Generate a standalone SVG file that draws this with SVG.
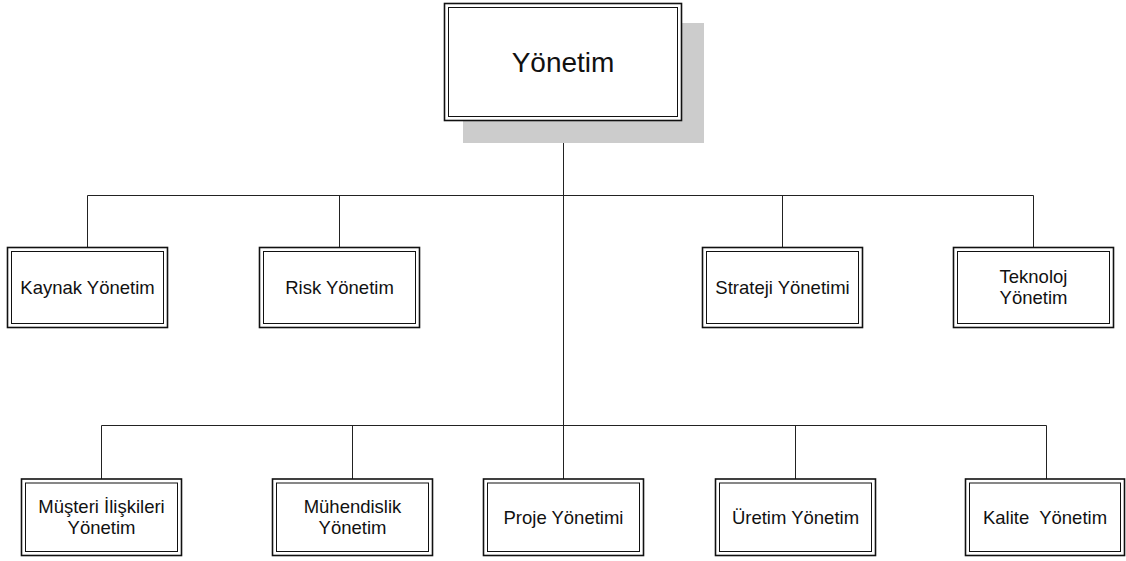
<svg xmlns="http://www.w3.org/2000/svg" width="1126" height="561" viewBox="0 0 1126 561">
  <style>
    .outer { fill: #ffffff; stroke: #111111; stroke-width: 1.6; }
    .inner { fill: none; stroke: #111111; stroke-width: 1; }
    .shadow { fill: #cccccc; stroke: none; }
    .wire { fill: none; stroke: #222222; stroke-width: 1; }
    .lbl { font-family: "Liberation Sans", Arial, sans-serif; font-size: 18.5px; fill: #111111; text-anchor: middle; white-space: pre; }
    .title { font-family: "Liberation Sans", Arial, sans-serif; font-size: 28px; fill: #111111; text-anchor: middle; }
  </style>
  <rect width="1126" height="561" fill="#ffffff"/>

  <!-- connectors -->
  <g id="connectors">
    <path class="wire" d="M563.5 121 V426"/>
    <path class="wire" d="M87.5 247 V195.5 H1033.5 V247"/>
    <path class="wire" d="M339.5 195.5 V247"/>
    <path class="wire" d="M782.5 195.5 V247"/>
    <path class="wire" d="M101.5 479 V425.5 H1046.5 V479"/>
    <path class="wire" d="M352.5 425.5 V479"/>
    <path class="wire" d="M563.5 425.5 V479"/>
    <path class="wire" d="M795.5 425.5 V479"/>
  </g>

  <!-- root -->
  <g id="yonetim">
    <rect class="shadow" x="463" y="23" width="241" height="120"/>
    <rect class="outer" x="444.5" y="3.5" width="237" height="117"/>
    <rect class="inner" x="448.5" y="7.5" width="229" height="109"/>
    <text class="title" x="563" y="72">Yönetim</text>
  </g>

  <!-- first level -->
  <g id="kaynak">
    <rect class="outer" x="7.5" y="247.5" width="160" height="80"/>
    <rect class="inner" x="11.5" y="251.5" width="152" height="72"/>
    <text class="lbl" x="87.5" y="294">Kaynak Yönetim</text>
  </g>
  <g id="risk">
    <rect class="outer" x="259.5" y="247.5" width="160" height="80"/>
    <rect class="inner" x="263.5" y="251.5" width="152" height="72"/>
    <text class="lbl" x="339.5" y="294">Risk Yönetim</text>
  </g>
  <g id="strateji">
    <rect class="outer" x="702.5" y="247.5" width="160" height="80"/>
    <rect class="inner" x="706.5" y="251.5" width="152" height="72"/>
    <text class="lbl" x="782.5" y="294">Strateji Yönetimi</text>
  </g>
  <g id="teknoloj">
    <rect class="outer" x="953.5" y="247.5" width="160" height="80"/>
    <rect class="inner" x="957.5" y="251.5" width="152" height="72"/>
    <text class="lbl" x="1033.5" y="283">Teknoloj</text>
    <text class="lbl" x="1033.5" y="304">Yönetim</text>
  </g>

  <!-- second level -->
  <g id="musteri">
    <rect class="outer" x="21.5" y="479" width="160" height="76.5"/>
    <rect class="inner" x="25.5" y="483" width="152" height="68.5"/>
    <text class="lbl" x="101.5" y="513">Müşteri İlişkileri</text>
    <text class="lbl" x="101.5" y="534">Yönetim</text>
  </g>
  <g id="muhendislik">
    <rect class="outer" x="272.5" y="479" width="160" height="76.5"/>
    <rect class="inner" x="276.5" y="483" width="152" height="68.5"/>
    <text class="lbl" x="352.5" y="513">Mühendislik</text>
    <text class="lbl" x="352.5" y="534">Yönetim</text>
  </g>
  <g id="proje">
    <rect class="outer" x="483.5" y="479" width="160" height="76.5"/>
    <rect class="inner" x="487.5" y="483" width="152" height="68.5"/>
    <text class="lbl" x="563.5" y="524">Proje Yönetimi</text>
  </g>
  <g id="uretim">
    <rect class="outer" x="715.5" y="479" width="160" height="76.5"/>
    <rect class="inner" x="719.5" y="483" width="152" height="68.5"/>
    <text class="lbl" x="795.5" y="524">Üretim Yönetim</text>
  </g>
  <g id="kalite">
    <rect class="outer" x="965.5" y="479" width="159" height="76.5"/>
    <rect class="inner" x="969.5" y="483" width="151" height="68.5"/>
    <text class="lbl" x="1045" y="524">Kalite  Yönetim</text>
  </g>
</svg>
